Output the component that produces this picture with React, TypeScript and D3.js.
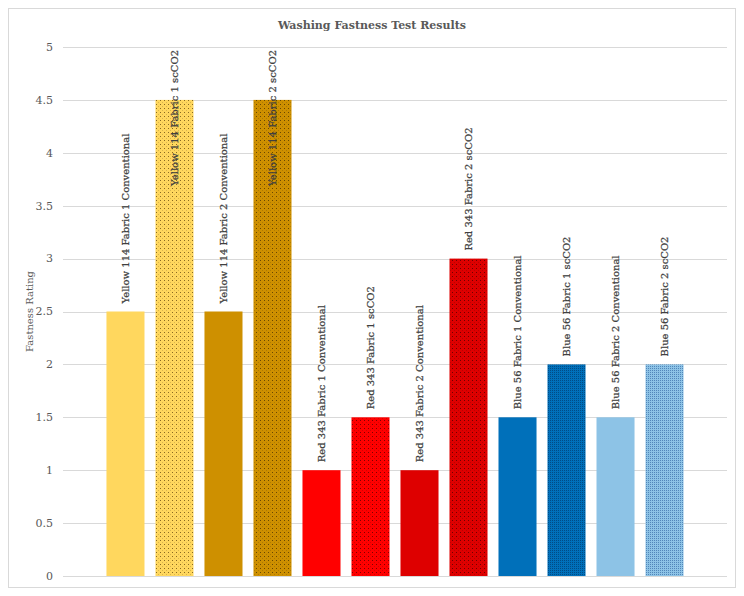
import { useRef, useEffect } from 'react'
import * as d3 from 'd3'

const categories = [
  'Yellow 114 Fabric 1 Conventional',
  'Yellow 114 Fabric 1 scCO2',
  'Yellow 114 Fabric 2 Conventional',
  'Yellow 114 Fabric 2 scCO2',
  'Red 343 Fabric 1 Conventional',
  'Red 343 Fabric 1 scCO2',
  'Red 343 Fabric 2 Conventional',
  'Red 343 Fabric 2 scCO2',
  'Blue 56 Fabric 1 Conventional',
  'Blue 56 Fabric 1 scCO2',
  'Blue 56 Fabric 2 Conventional',
  'Blue 56 Fabric 2 scCO2',
]
const ratings = [2.5, 4.5, 2.5, 4.5, 1, 1.5, 1, 3, 1.5, 2, 1.5, 2]
const baseColors = [
  '#FFD75E', '#FFD75E', '#CE9000', '#CE9000',
  '#FF0000', '#FF0000', '#DE0000', '#DE0000',
  '#0070BA', '#0070BA', '#8DC3E6', '#8DC3E6',
]
// null = solid fill, otherwise dot colour of the pattern
const dotColors = [
  null, '#8a6a20', null, '#6a4800',
  null, '#800000', null, '#700000',
  null, '#004c86', null, '#5286ba',
]
const dotSpacing = [0, 4, 0, 4, 0, 4, 0, 4, 0, 2, 0, 2]
const yTicks = [0, 0.5, 1, 1.5, 2, 2.5, 3, 3.5, 4, 4.5, 5]

const W = 744
const H = 596
const plot = { left: 63, right: 727, top: 47, bottom: 576 }

export default function App() {
  const svgRef = useRef<SVGSVGElement>(null)

  useEffect(() => {
    if (!svgRef.current) return
    const svg = d3.select(svgRef.current)
    svg.selectAll('*').remove()

    const x = d3
      .scaleBand<string>()
      .domain(categories)
      .range([plot.left, plot.right])
      .paddingInner(0.224)
      .paddingOuter(0.887)

    const y = d3.scaleLinear().domain([0, 5]).range([plot.bottom, plot.top])

    // Patterns
    const defs = svg.append('defs')
    categories.forEach((_, i) => {
      const dc = dotColors[i]
      if (!dc) return
      const s = dotSpacing[i]
      const p = defs
        .append('pattern')
        .attr('id', `pat-${i}`)
        .attr('patternUnits', 'userSpaceOnUse')
        .attr('width', s)
        .attr('height', s)
      p.append('rect').attr('width', s).attr('height', s).attr('fill', baseColors[i])
      p.append('rect').attr('x', 0).attr('y', 0).attr('width', 1).attr('height', 1).attr('fill', dc)
      if (s === 4) {
        p.append('rect').attr('x', 2).attr('y', 2).attr('width', 1).attr('height', 1)
          .attr('fill', dc).attr('opacity', 0.3)
      }
    })

    // Chart border
    svg
      .append('rect')
      .attr('x', 8.5)
      .attr('y', 8.5)
      .attr('width', 727)
      .attr('height', 579)
      .attr('fill', '#fff')
      .attr('stroke', '#d9d9d9')

    // Title
    svg
      .append('text')
      .attr('x', 372)
      .attr('y', 29)
      .attr('text-anchor', 'middle')
      .attr('font-family', 'DejaVu Serif')
      .attr('font-weight', 'bold')
      .attr('font-size', 11)
      .attr('fill', '#595959')
      .text('Washing Fastness Test Results')

    // Gridlines + ticks
    const grid = svg.append('g')
    grid
      .selectAll('line')
      .data(yTicks)
      .join('line')
      .attr('x1', plot.left)
      .attr('x2', plot.right)
      .attr('y1', (d) => Math.round(y(d)) + 0.5)
      .attr('y2', (d) => Math.round(y(d)) + 0.5)
      .attr('stroke', '#d9d9d9')
      .attr('stroke-width', 1)

    grid
      .selectAll('text')
      .data(yTicks)
      .join('text')
      .attr('x', 53)
      .attr('y', (d) => y(d))
      .attr('dy', '0.35em')
      .attr('text-anchor', 'end')
      .attr('font-family', 'DejaVu Serif')
      .attr('font-size', 11)
      .attr('fill', '#595959')
      .text((d) => String(d))

    // Axis title
    svg
      .append('text')
      .attr('transform', `translate(33,${(plot.top + plot.bottom) / 2}) rotate(-90)`)
      .attr('text-anchor', 'middle')
      .attr('font-family', 'DejaVu Serif')
      .attr('font-size', 10)
      .attr('fill', '#595959')
      .text('Fastness Rating')

    // Bars
    svg
      .append('g')
      .selectAll('rect')
      .data(categories)
      .join('rect')
      .attr('x', (d) => x(d) ?? 0)
      .attr('y', (_, i) => y(ratings[i]))
      .attr('width', x.bandwidth())
      .attr('height', (_, i) => y(0) - y(ratings[i]))
      .attr('fill', (_, i) => (dotColors[i] ? `url(#pat-${i})` : baseColors[i]))

    // Bottom axis line
    svg
      .append('line')
      .attr('x1', plot.left)
      .attr('x2', plot.right)
      .attr('y1', plot.bottom + 0.5)
      .attr('y2', plot.bottom + 0.5)
      .attr('stroke', '#d9d9d9')

    // Data labels (rotated, above bars, clamped to plot top)
    const labels = svg.append('g')
    categories.forEach((c, i) => {
      const cx = (x(c) ?? 0) + x.bandwidth() / 2
      const t = labels
        .append('text')
        .attr('font-family', 'DejaVu Serif')
        .attr('font-size', 10)
        .attr('fill', '#404040')
        .attr('stroke', '#404040')
        .attr('stroke-width', 0.25)
        .attr('dominant-baseline', 'central')
        .text(c)
      const len = (t.node() as SVGTextElement).getComputedTextLength()
      let start = y(ratings[i]) - 8
      if (start - len < plot.top + 3) start = plot.top + 3 + len
      t.attr('transform', `translate(${cx},${start}) rotate(-90)`)
    })
  }, [])

  return (
    <svg
      ref={svgRef}
      width={W}
      height={H}
      style={{ position: 'absolute', left: 0, top: 0 }}
    />
  )
}
